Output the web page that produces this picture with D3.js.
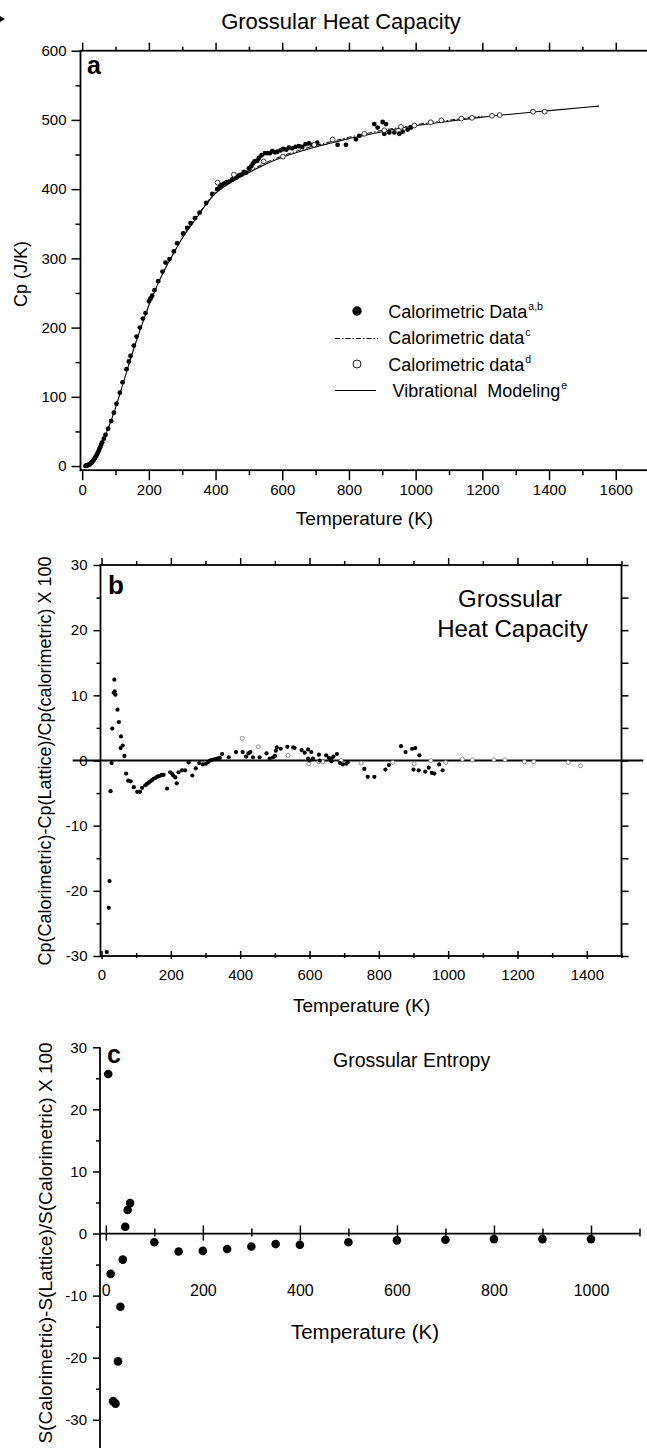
<!DOCTYPE html>
<html><head><meta charset="utf-8">
<script src="https://cdn.jsdelivr.net/npm/d3@7/dist/d3.min.js"></script>
<style>
html,body{margin:0;padding:0;background:#fff;}
svg{display:block;}
text{font-family:'Liberation Sans',Arial,Helvetica,sans-serif;fill:#000;}
</style></head>
<body>
<script>
// ---------------- DATA ----------------
// Panel a: heat capacity (J/K) vs temperature (K)
const cpFilledT  = [10,12,14,16,18,20,22,24,26,28,30,33,36,39,42,45,48,51,54,57,60,
  65,70,78,87,95,103,113,121,133,140,145,155,163,173,182,190,200,205,210,217,228,241,250,262,275,285,303,315,325,338,352,372,390,
  405,412,418,425,433,441,450,462,470,478,485,492,500,507,512,517,525,530,538,548,556,563,570,578,585,595,603,612,620,630,640,650,660,670,680,690,705,
  766,791,821,831,876,886,901,911,906,921,936,951,961,976,986];
const cpFilledCp = [0.2,0.4,0.7,1.0,1.4,1.9,2.5,3.2,4.0,4.9,5.9,7.7,9.7,12.0,14.6,17.4,20.4,23.6,27.0,30.6,34.2,
  39.5,45,54,65,77,90,106,121,140,151,159,174,187,200,213,221,238,242,246,254,267,281,294,299,310,322,336,344,351,358,366,380,393,
  400,403,406,408,410,411,414,417,420,421,425,424,430,433,437,440,441,445,449,452,452,452,455,453,454,456,458,457,460,459,461,462,461,465,466,464,467,
  464,464,472,477,494,489,497,494,480,482,482,480,483,486,489];
const cpOpenT  = [406,455,544,602,696,751,846,906,956,996,1045,1077,1137,1169,1229,1252,1352,1387];
const cpOpenCp = [409.5,421,440,447,464,471.7,480,485,490,492,496.6,499.5,502,503,506,507,512,512];
const cpDashT  = [298,350,400,450,500,550,600,650,700,750,800,850,900,950,1000,1100,1200];
const cpDashCp = [331,365,396,413,426,438,448,456,463,469,475,480,485,489,493,499.5,505.5];
const modelT  = [10,20,30,40,50,60,70,80,90,100,120,140,160,180,200,225,250,275,300,350,375,400,425,450,500,550,600,650,700,750,800,850,900,950,1000,1100,1200,1300,1400,1550];
const modelCp = [0.2,1.9,5.9,12.5,21.5,33,45,57,70,84,115,147,177,205,232,261,286,308,329,363,380,394,403,411,424,436,446,454,461,467,473,478,483,487.5,491.5,498,504,509,513.5,520];
const xTicksA = [0,200,400,600,800,1000,1200,1400,1600];
const yTicksA = [0,100,200,300,400,500,600];
const legendLabels = [
  {kind:"dot",  text:"Calorimetric Data", sup:"a,b"},
  {kind:"dash", text:"Calorimetric data", sup:"c"},
  {kind:"open", text:"Calorimetric data", sup:"d"},
  {kind:"line", text:"Vibrational  Modeling", sup:"e"}
];

// Panel b: Cp deviation (%) vs temperature
const devFilledT = [15,21,23,26,29,31,35,37,38,40,46,50,56,55,61,66,71,77,84,93,103,111,117,126,131,136,141,146,150,155,160,165,170,174,179,189,198,203,207,213,217,222,232,241,251,262,272,282,292,301,308,313,319,327,334,341,348,367,388,407,417,424,429,437,456,476,485,495,500,503,506,517,536,553,557,577,586,596,605,596,600,610,627,629,648,656,663,669,679,663,688,696,706,710,758,768,787,819,829,864,877,896,905,917,900,915,934,944,953,960,974,984];
const devFilledV = [-29.4,-22.6,-18.5,-4.7,-0.4,4.9,10.4,12.4,10.6,10.1,7.8,5.9,3.7,1.9,2.3,0.7,-2.0,-3.1,-3.2,-4.1,-4.8,-4.8,-4.2,-3.8,-3.6,-3.4,-3.2,-3.0,-2.8,-2.7,-2.5,-2.4,-2.3,-2.2,-2.2,-4.3,-1.8,-2.0,-2.3,-2.6,-3.5,-1.8,-1.5,-1.5,-0.3,-2.3,-1.2,-0.4,-0.6,-0.5,-0.2,0.0,0.1,0.2,0.3,0.4,1.0,0.5,1.3,1.3,0.6,1.1,1.3,0.5,0.5,1.1,0.3,0.5,0.7,1.5,2.0,1.8,2.1,2.0,1.9,1.6,1.2,1.7,1.3,0.3,0.0,0.3,0.9,0.0,0.8,0.4,0.25,0.6,1.0,-0.1,-0.4,-0.6,-0.5,-0.3,-1.3,-2.5,-2.5,-1.4,-0.7,2.2,1.3,1.8,1.9,0.8,-1.4,-1.5,-1.7,-1.1,-1.9,-2.0,-0.6,-1.5];
const devOpenT = [406,452,538,598,627,638,691,749,840,902,950,993,1041,1070,1132,1164,1220,1247,1346,1382];
const devOpenV = [3.4,2.1,0.8,-0.5,-0.2,-0.2,0.0,-0.4,-0.3,-0.5,0.0,-0.3,0.2,0.1,0.1,0.1,-0.2,-0.2,-0.3,-0.8];
const xTicksB = [0,200,400,600,800,1000,1200,1400];
const yTicksB = [-30,-20,-10,0,10,20,30];

// Panel c: entropy deviation (%) vs temperature
const entT = [5,10,15,20,25,30,35,40,45,50,100,150,200,250,300,350,400,500,600,700,800,900,1000];
const entV = [25.7,-6.5,-27.0,-27.4,-20.6,-11.8,-4.2,1.1,3.8,4.9,-1.4,-2.9,-2.8,-2.5,-2.1,-1.7,-1.8,-1.4,-1.1,-1.0,-0.9,-0.9,-0.9];
const xTicksC = [0,200,400,600,800,1000];
const yTicksC = [-30,-20,-10,0,10,20,30];

// ---------------- DRAW ----------------
const svg = d3.select("body").append("svg").attr("width",647).attr("height",1448);
svg.append("rect").attr("width",647).attr("height",1448).attr("fill","#fff");
const AX = 1.8;
const fmt = d => String(d);   // plain hyphen-minus like the original

function styleAxis(g, fs){
  g.select(".domain").remove();
  g.selectAll(".tick line").attr("stroke","#000").attr("stroke-width",1.5);
  g.selectAll("text").attr("font-size",fs).attr("font-family","'Liberation Sans',Arial,sans-serif").attr("fill","#000");
  return g;
}
function minorVals(major, step){ return major.slice(0,-1).map(v=>v+step/2); }

// small marker at top-left
svg.append("path").attr("d","M0,16L5,19L0,22Z").attr("fill","#000");

// ===== Panel a =====
const xA = d3.scaleLinear().domain([-5,1700]).range([80.5,649.1]);
const yA = d3.scaleLinear().domain([-6,600]).range([470.2,50.7]);
svg.append("text").attr("x",341).attr("y",28.5).attr("text-anchor","middle").attr("font-size",22).text("Grossular Heat Capacity");

const xMinA = [100,300,500,700,900,1100,1300,1500,1700];
styleAxis(svg.append("g").attr("transform",`translate(0,${yA.range()[0]})`).call(d3.axisBottom(xA).tickValues(xMinA).tickSize(5).tickFormat("")),15);
styleAxis(svg.append("g").attr("transform",`translate(0,${yA.range()[0]})`).call(d3.axisBottom(xA).tickValues(xTicksA).tickSize(10).tickPadding(4).tickFormat(fmt)),15);
styleAxis(svg.append("g").attr("transform",`translate(0,${yA.range()[1]})`).call(d3.axisTop(xA).tickValues(xMinA).tickSize(4).tickFormat("")),15);
styleAxis(svg.append("g").attr("transform",`translate(0,${yA.range()[1]})`).call(d3.axisTop(xA).tickValues(xTicksA).tickSize(8).tickFormat("")),15);
styleAxis(svg.append("g").attr("transform",`translate(${xA.range()[0]},0)`).call(d3.axisLeft(yA).tickValues(minorVals(yTicksA,100)).tickSize(5).tickFormat("")),15);
styleAxis(svg.append("g").attr("transform",`translate(${xA.range()[0]},0)`).call(d3.axisLeft(yA).tickValues(yTicksA).tickSize(9).tickPadding(5).tickFormat(fmt)),15);
svg.append("rect").attr("x",xA.range()[0]).attr("y",yA.range()[1]).attr("width",xA.range()[1]-xA.range()[0]).attr("height",yA.range()[0]-yA.range()[1])
  .attr("fill","none").attr("stroke","#000").attr("stroke-width",AX);

svg.append("text").attr("x",87).attr("y",73.5).attr("font-size",25).attr("font-weight","bold").text("a");
svg.append("text").attr("x",364.5).attr("y",525).attr("text-anchor","middle").attr("font-size",19).text("Temperature (K)");
svg.append("text").attr("transform","translate(21,274) rotate(-90)").attr("dy","0.35em").attr("text-anchor","middle").attr("font-size",18).text("Cp (J/K)");

const lineA = d3.line().x(d=>xA(d[0])).y(d=>yA(d[1])).curve(d3.curveMonotoneX);
svg.append("path").datum(d3.zip(modelT,modelCp)).attr("d",lineA).attr("fill","none").attr("stroke","#000").attr("stroke-width",1.1);
svg.append("path").datum(d3.zip(cpDashT,cpDashCp)).attr("d",lineA).attr("fill","none").attr("stroke","#000").attr("stroke-width",1).attr("stroke-dasharray","5,2,1.5,2");
svg.append("g").selectAll("circle").data(d3.zip(cpFilledT,cpFilledCp)).join("circle")
  .attr("cx",d=>xA(d[0])).attr("cy",d=>yA(d[1])).attr("r",2.4).attr("fill","#000");
svg.append("g").selectAll("circle").data(d3.zip(cpOpenT,cpOpenCp)).join("circle")
  .attr("cx",d=>xA(d[0])).attr("cy",d=>yA(d[1])).attr("r",2.4).attr("fill","#fff").attr("stroke","#222").attr("stroke-width",0.9);

// legend
const leg = svg.append("g");
legendLabels.forEach((L,i)=>{
  const cy = 311 + i*26.5;
  if(L.kind==="dot") leg.append("circle").attr("cx",357).attr("cy",cy).attr("r",4.7).attr("fill","#000");
  if(L.kind==="open") leg.append("circle").attr("cx",357).attr("cy",cy).attr("r",4).attr("fill","#fff").attr("stroke","#000").attr("stroke-width",0.9);
  if(L.kind==="dash") leg.append("line").attr("x1",335).attr("x2",378).attr("y1",cy+1).attr("y2",cy+1).attr("stroke","#000").attr("stroke-width",1).attr("stroke-dasharray","5,2,1.5,2");
  if(L.kind==="line") leg.append("line").attr("x1",335).attr("x2",376).attr("y1",cy).attr("y2",cy).attr("stroke","#000").attr("stroke-width",1);
  const t = leg.append("text").attr("x", L.kind==="line"?392.5:388.3).attr("y",cy+6.5).attr("font-size",18).style("white-space","pre");
  t.append("tspan").text(L.text);
  t.append("tspan").attr("font-size",10.5).attr("dy",-8).attr("dx",1).text(L.sup);
});

// ===== Panel b =====
const xB = d3.scaleLinear().domain([-3,1500]).range([100.5,621.5]);
const yB = d3.scaleLinear().domain([-30,30]).range([956,565]);
const xMinB = [100,300,500,700,900,1100,1300,1500];
const yMinB = minorVals(yTicksB,10);
const gbm = styleAxis(svg.append("g").attr("transform",`translate(0,${yB.range()[0]})`).call(d3.axisBottom(xB).tickValues(xMinB).tickSize(2).tickFormat("")),15);
gbm.selectAll(".tick line").attr("y1",-3);
const gbM = styleAxis(svg.append("g").attr("transform",`translate(0,${yB.range()[0]})`).call(d3.axisBottom(xB).tickValues(xTicksB).tickSize(3).tickPadding(10.5).tickFormat(fmt)),15);
gbM.selectAll(".tick line").attr("y1",-5);
styleAxis(svg.append("g").attr("transform",`translate(0,${yB.range()[1]})`).call(d3.axisTop(xB).tickValues(xMinB).tickSize(4).tickFormat("")),15);
styleAxis(svg.append("g").attr("transform",`translate(0,${yB.range()[1]})`).call(d3.axisTop(xB).tickValues(xTicksB).tickSize(7).tickFormat("")),15);
styleAxis(svg.append("g").attr("transform",`translate(${xB.range()[0]},0)`).call(d3.axisLeft(yB).tickValues(yMinB).tickSize(4).tickFormat("")),15);
styleAxis(svg.append("g").attr("transform",`translate(${xB.range()[0]},0)`).call(d3.axisLeft(yB).tickValues(yTicksB).tickSize(7).tickPadding(6).tickFormat(fmt)),15);
styleAxis(svg.append("g").attr("transform",`translate(${xB.range()[1]},0)`).call(d3.axisRight(yB).tickValues(yTicksB.concat(yMinB)).tickSize(7).tickFormat("")),15);
svg.append("rect").attr("x",xB.range()[0]).attr("y",yB.range()[1]).attr("width",xB.range()[1]-xB.range()[0]).attr("height",yB.range()[0]-yB.range()[1])
  .attr("fill","none").attr("stroke","#000").attr("stroke-width",AX);
svg.append("line").attr("x1",72.7).attr("x2",643.3).attr("y1",yB(0)).attr("y2",yB(0)).attr("stroke","#000").attr("stroke-width",2);

svg.append("text").attr("x",108).attr("y",594).attr("font-size",26).attr("font-weight","bold").text("b");
svg.append("text").attr("x",510).attr("y",606.7).attr("text-anchor","middle").attr("font-size",24).text("Grossular");
svg.append("text").attr("x",512.5).attr("y",637).attr("text-anchor","middle").attr("font-size",24).text("Heat Capacity");
svg.append("text").attr("x",361.6).attr("y",1011.5).attr("text-anchor","middle").attr("font-size",19).text("Temperature (K)");
svg.append("text").attr("transform","translate(45,761) rotate(-90)").attr("dy","0.35em").attr("text-anchor","middle").attr("font-size",18)
  .text("Cp(Calorimetric)-Cp(Lattice)/Cp(calorimetric) X 100");

svg.append("g").selectAll("circle").data(d3.zip(devOpenT,devOpenV)).join("circle")
  .attr("cx",d=>xB(d[0])).attr("cy",d=>yB(d[1])).attr("r",2).attr("fill","#fff").attr("stroke","#777").attr("stroke-width",0.8);
svg.append("g").selectAll("circle").data(d3.zip(devFilledT,devFilledV)).join("circle")
  .attr("cx",d=>xB(d[0])).attr("cy",d=>yB(d[1])).attr("r",2.1).attr("fill","#000");

// ===== Panel c =====
const xC = d3.scaleLinear().domain([-12,1100]).range([100,639.5]);
const yC = d3.scaleLinear().domain([-36,30]).range([1457,1047.3]);
const xMinC = [100,300,500,700,900,1100];
const gcm = styleAxis(svg.append("g").attr("transform",`translate(0,${yC(0)})`).call(d3.axisBottom(xC).tickValues(xMinC).tickSize(3).tickFormat("")),16);
gcm.selectAll(".tick line").attr("y1",-5);
const gcM = styleAxis(svg.append("g").attr("transform",`translate(0,${yC(0)})`).call(d3.axisBottom(xC).tickValues(xTicksC).tickSize(7).tickPadding(44).tickFormat(fmt)),16);
gcM.selectAll(".tick line").attr("y1",-8);
styleAxis(svg.append("g").attr("transform",`translate(${xC.range()[0]},0)`).call(d3.axisLeft(yC).tickValues([25,15,5,-5,-15,-25,-35]).tickSize(4).tickFormat("")),15);
styleAxis(svg.append("g").attr("transform",`translate(${xC.range()[0]},0)`).call(d3.axisLeft(yC).tickValues(yTicksC).tickSize(7).tickPadding(6).tickFormat(fmt)),15);
svg.append("line").attr("x1",xC.range()[0]).attr("x2",xC.range()[0]).attr("y1",yC(30)).attr("y2",1448).attr("stroke","#000").attr("stroke-width",AX);
svg.append("line").attr("x1",xC.range()[0]).attr("x2",xC.range()[1]).attr("y1",yC(0)).attr("y2",yC(0)).attr("stroke","#000").attr("stroke-width",AX);

svg.append("text").attr("x",107).attr("y",1063).attr("font-size",25).attr("font-weight","bold").text("c");
svg.append("text").attr("x",333).attr("y",1067).attr("font-size",19.5).text("Grossular Entropy");
svg.append("text").attr("x",365).attr("y",1338.5).attr("text-anchor","middle").attr("font-size",20.5).text("Temperature (K)");
svg.append("text").attr("transform","translate(45,1243) rotate(-90)").attr("dy","0.35em").attr("text-anchor","middle").attr("font-size",19)
  .text("S(Calorimetric)-S(Lattice)/S(Calorimetric) X 100");

svg.append("g").selectAll("circle").data(d3.zip(entT,entV)).join("circle")
  .attr("cx",d=>xC(d[0])).attr("cy",d=>yC(d[1])).attr("r",4.3).attr("fill","#000");
</script>
</body></html>
